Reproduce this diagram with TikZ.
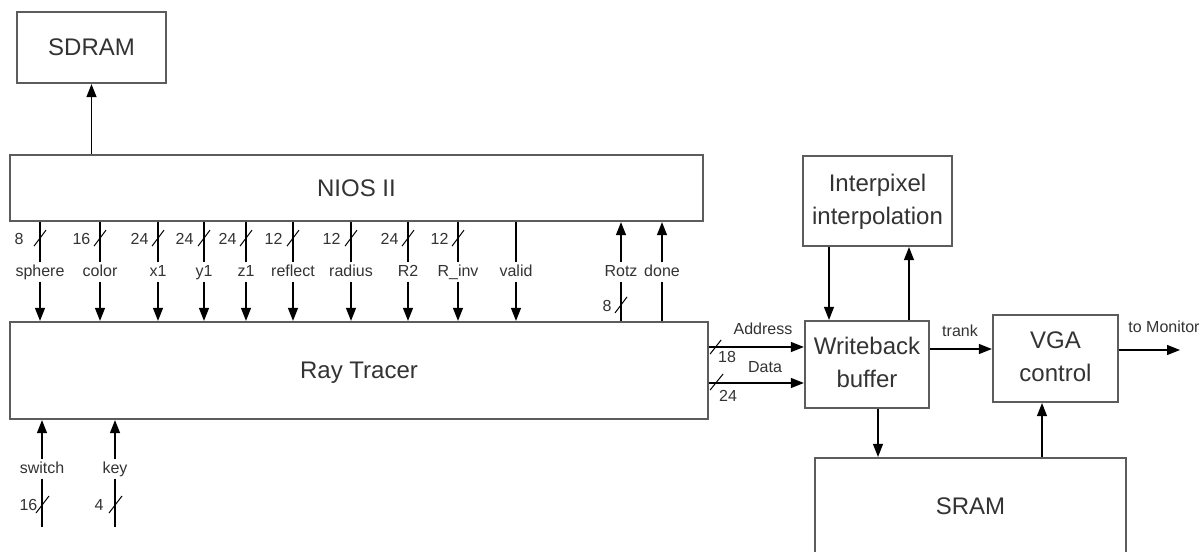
\documentclass[tikz,border=0pt]{standalone}
\usepackage{fontspec}
\setmainfont{Liberation Sans}
\usetikzlibrary{arrows.meta,calc}
\definecolor{boxc}{HTML}{5C5C5C}
\definecolor{txt}{HTML}{333333}
\newcommand{\twoline}[2]{\begin{tabular}{@{}c@{}}#1\\#2\end{tabular}}
\begin{document}
\begin{tikzpicture}[x=0.5pt,y=-0.5pt,
  box/.style={draw=boxc,line width=1.1pt,text=txt,font=\fontsize{12}{16.5}\selectfont,inner sep=0pt},
  lbl/.style={text=txt,font=\fontsize{8}{9}\selectfont,inner sep=0.6pt,text height=6pt,text depth=2pt},
  sig/.style={line width=0.6pt,black},
  arr/.style={sig,-{Triangle[length=6.5pt,width=5pt]}},
  bus/.style={line width=0.5pt,black}]
\clip (0,0) rectangle (1203,551);
\fill[white] (0,0) rectangle (1203,551);
% boxes
\node[box,minimum width=74.5pt,minimum height=35.5pt] (sdram) at (91.5,47.5) {SDRAM};
\node[box,minimum width=346.5pt,minimum height=33pt] (nios) at (356.5,188) {NIOS II};
\node[box,text depth=0pt,minimum width=349pt,minimum height=48.5pt] (rt) at (359,370.5) {Ray Tracer};
\node[box,minimum width=74.5pt,minimum height=45pt] (interp) at (877.5,201) {\twoline{Interpixel}{interpolation}};
\node[box,minimum width=62pt,minimum height=43.5pt] (wb) at (867,364.5) {\twoline{Writeback}{buffer}};
\node[box,minimum width=62.5pt,minimum height=43.5pt] (vga) at (1055.5,358.5) {\twoline{VGA}{control}};
\node[box,minimum width=155.5pt,minimum height=48.5pt] (sram) at (970.5,506.5) {SRAM};
% NIOS -> SDRAM
\draw[arr] (nios.north -| sdram) -- (sdram.south);
% buses from NIOS to Ray Tracer
\foreach \i/\x/\t/\w/\o in {1/40/sphere/8/15, 2/100/color/16/8, 3/158/x1/24/8, 4/204/y1/24/9, 5/246/z1/24/8, 6/293/reflect/12/9, 7/351/radius/12/9, 8/408/R2/24/8, 9/458/R\_inv/12/8}{
  \node[lbl,fill=white] (L\i) at (\x,272) {\t};
  \draw[sig] (nios.south -| L\i) -- (L\i.north);
  \draw[arr] (L\i.south) -- (L\i.south |- rt.north);
  \draw[bus] ($(nios.south -| L\i)+(-6,24)$) -- ++(12,-16);
  \node[lbl,anchor=east] (N\i) at (\x-\o,240) {\w};
}
\node[lbl,fill=white] (L10) at (516,272) {valid};
\draw[sig] (nios.south -| L10) -- (L10.north);
\draw[arr] (L10.south) -- (L10.south |- rt.north);
% Ray Tracer -> NIOS
\node[lbl,fill=white] (Lrotz) at (621,272) {Rotz};
\draw[sig] (Lrotz.south) -- (Lrotz.south |- rt.north);
\draw[arr] (Lrotz.north) -- (Lrotz.north |- nios.south);
\draw[bus] ($(rt.north -| Lrotz)+(-6,-8)$) -- ++(12,-16);
\node[lbl,anchor=east] (Nrotz) at (613,307) {8};
\node[lbl,fill=white] (Ldone) at (662,272) {done};
\draw[sig] (Ldone.south) -- (Ldone.south |- rt.north);
\draw[arr] (Ldone.north) -- (Ldone.north |- nios.south);
% inputs at the bottom
\node[lbl,fill=white] (Lsw) at (42,469) {switch};
\coordinate (swend) at (42,527);
\draw[arr] (Lsw.north) -- (Lsw.north |- rt.south);
\draw[sig] (Lsw.south) -- (swend);
\draw[bus] ($(swend)+(-6,-14)$) -- ++(13,-17);
\node[lbl,anchor=east] (Nsw) at (39,506) {16};
\node[lbl,fill=white] (Lkey) at (115,469) {key};
\coordinate (keyend) at (115,527);
\draw[arr] (Lkey.north) -- (Lkey.north |- rt.south);
\draw[sig] (Lkey.south) -- (keyend);
\draw[bus] ($(keyend)+(-6,-14)$) -- ++(13,-17);
\node[lbl,anchor=east] (Nkey) at (105,506) {4};
% Ray Tracer -> Writeback buffer
\coordinate (ya) at (0,347);
\coordinate (yd) at (0,383);
\draw[arr] (rt.east |- ya) -- (wb.west |- ya);
\draw[arr] (rt.east |- yd) -- (wb.west |- yd);
\draw[bus] ($(rt.east |- ya)+(1,7)$) -- ++(11,-14);
\draw[bus] ($(rt.east |- yd)+(1,7)$) -- ++(13,-16);
\node[lbl] (addr) at (763,330) {Address};
\node[lbl] (n18) at (727,358) {18};
\node[lbl] (data) at (765,368) {Data};
\node[lbl] (n24) at (728,397) {24};
% Interpixel <-> Writeback
\coordinate (xa) at (829,0);
\coordinate (xb) at (909,0);
\draw[arr] (interp.south -| xa) -- (wb.north -| xa);
\draw[arr] (wb.north -| xb) -- (interp.south -| xb);
% Writeback -> VGA
\coordinate (yt) at (0,349);
\draw[arr] (wb.east |- yt) -- (vga.west |- yt);
\node[lbl] (trank) at (960,332) {trank};
% VGA -> monitor
\coordinate (mon) at (1180,350);
\draw[arr] (vga.east |- mon) -- (mon);
\node[lbl] (tomon) at (1164,328) {to Monitor};
% SRAM connections
\coordinate (xc) at (878,0);
\coordinate (xd) at (1042,0);
\draw[arr] (wb.south -| xc) -- (sram.north -| xc);
\draw[arr] (sram.north -| xd) -- (vga.south -| xd);
\end{tikzpicture}
\end{document}
